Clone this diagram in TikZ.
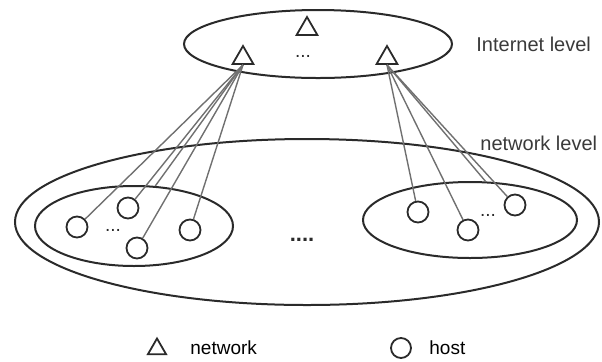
\documentclass[tikz,border=0pt]{standalone}
\usepackage{fontspec}
\setmainfont{Liberation Sans}
\usetikzlibrary{shapes.geometric}
\definecolor{lvlLine}{HTML}{2A2A2A}
\definecolor{linkLine}{HTML}{707070}
\definecolor{lvlText}{HTML}{3A3A3A}

\begin{document}
\begin{tikzpicture}[x=0.5pt, y=-0.5pt,
  every node/.style={font=\fontsize{9.5}{11}\selectfont, inner sep=0pt},
  level/.style={draw=lvlLine, line width=1pt, ellipse},
  netnode/.style={draw=lvlLine, line width=0.9pt, regular polygon,
                  regular polygon sides=3, minimum size=12pt},
  hostnode/.style={draw=lvlLine, line width=0.9pt, circle,
                   minimum size=10.5pt},
  link/.style={draw=linkLine, line width=0.7pt},
  levellabel/.style={anchor=west, text=lvlText, font=\fontsize{10}{12}\selectfont},
  more/.style={anchor=base, text=lvlLine},
]
\useasboundingbox (0,0) rectangle (602,361);

% --- Bottom: network level, two networks of hosts -------------------
\node[level, minimum width=292pt, minimum height=83pt] (netlevel) at (307,222) {};
\node[level, minimum width=99pt,  minimum height=40pt] (lanA) at (134,226) {};
\node[level, minimum width=107pt, minimum height=38pt] (lanB) at (470,220) {};

\node[hostnode] (h1) at ( 77,227) {};
\node[hostnode] (h2) at (128,208) {};
\node[hostnode] (h3) at (137,248) {};
\node[hostnode] (h4) at (190,230) {};
\node[more] (dotsA) at (113,231) {...};

\node[hostnode] (r1) at (418,212) {};
\node[hostnode] (r2) at (468,230) {};
\node[hostnode] (r3) at (515,205) {};
\node[more] (dotsB) at (488,216) {...};

\node[more, font=\fontsize{11}{12}\bfseries] (dotsNet) at (302,241) {....};

\node[levellabel] (netlabel) at (480,143) {network level};

% --- Top: internet level ---------------------------------------------
\node[level, minimum width=134pt, minimum height=34pt] (inetlevel) at (318,44) {};
\node[netnode] (n0) at (307,29) {};
\node[netnode] (n1) at (243,58) {};
\node[netnode] (n2) at (387,58) {};
\node[more] (dotsInet) at (303,57) {...};

\node[levellabel] (inetlabel) at (476,44) {Internet level};

% Links from the networks down to their hosts.
\draw[link] (n1.south) -- (h1);
\draw[link] (n1.south) -- (h2);
\draw[link] (n1.south) -- (h3);
\draw[link] (n1.south) -- (h4);
\draw[link] (n1.south) -- (lanA.62);

\draw[link] (n2.south) -- (r1);
\draw[link] (n2.south) -- (r2);
\draw[link] (n2.south) -- (r3);
\draw[link] (n2.south) -- (lanB.68);

% --- Legend ------------------------------------------------------------
\node[netnode, minimum size=10.5pt] (keynet) at (157,349) {};
\node[anchor=west] (keynettext) at (190,348) {network};
\node[hostnode, minimum size=10pt] (keyhost) at (401,348) {};
\node[anchor=west] (keyhosttext) at (429,348) {host};
\end{tikzpicture}
\end{document}
